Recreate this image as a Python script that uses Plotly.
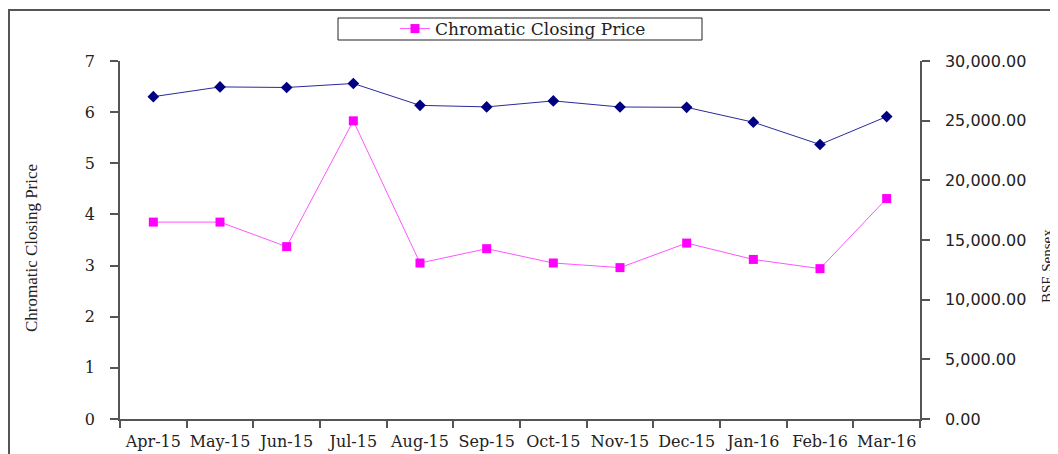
import plotly.graph_objects as go

months = ["Apr-15", "May-15", "Jun-15", "Jul-15", "Aug-15", "Sep-15",
          "Oct-15", "Nov-15", "Dec-15", "Jan-16", "Feb-16", "Mar-16"]
chromatic_price = [3.85, 3.85, 3.37, 5.83, 3.05, 3.33, 3.05, 2.96, 3.44, 3.12, 2.94, 4.31]
bse_sensex = [27011, 27828, 27781, 28115, 26283, 26155, 26657, 26146, 26118, 24871, 23002, 25342]
left_ticks = [0, 1, 2, 3, 4, 5, 6, 7]
right_ticks = [0, 5000, 10000, 15000, 20000, 25000, 30000]

pos = list(range(len(months)))
bounds = [i - 0.5 for i in range(len(months) + 1)]

# page body has an 8px margin: figure coordinates = window coordinates - 8
OFF = 8
W, H = 1058 - OFF, 454 - OFF
L, T = 120 - OFF, 61 - OFF
R = W - (920 - OFF)
B = H - (419 - OFF)
pw, ph = W - L - R, H - T - B


def px_x(p):  # window px -> paper
    return (p - OFF - L) / pw


def px_y(p):
    return (H - B - (p - OFF)) / ph


axis_col = "#555555"
serif_font = dict(family="DejaVu Serif", size=16, color="#222222")
sans_font = dict(family="DejaVu Sans", size=16, color="#222222")

fig = go.Figure()
fig.add_trace(go.Scatter(
    x=pos, y=bse_sensex, yaxis="y2", mode="lines+markers", name="BSE Sensex",
    line=dict(color="#2a2a9a", width=1),
    marker=dict(symbol="diamond", size=9, color="#000080"),
    showlegend=False))
fig.add_trace(go.Scatter(
    x=pos, y=chromatic_price, mode="lines+markers", name="Chromatic Closing Price",
    line=dict(color="#ff55ff", width=1),
    marker=dict(symbol="square", size=9, color="#ff00ff")))

rng_x = [-0.5, len(months) - 0.5]
common = dict(showgrid=False, zeroline=False, automargin=False)
fig.update_layout(
    width=W, height=H,
    margin=dict(l=L, r=R, t=T, b=B, autoexpand=False),
    paper_bgcolor="white", plot_bgcolor="white",
    font=serif_font,
    xaxis=dict(range=rng_x, tickmode="array", tickvals=pos, ticktext=months,
               ticks="", showline=True, linecolor=axis_col, linewidth=1.5,
               minor=dict(tickmode="array", tickvals=bounds, ticks="outside",
                          ticklen=7, tickcolor=axis_col, tickwidth=1.5, showgrid=False),
               tickfont=serif_font, ticklabelstandoff=7, **common),
    xaxis2=dict(range=rng_x, overlaying="x", anchor="y", side="bottom",
                tickmode="array", tickvals=bounds, ticks="inside", ticklen=7,
                tickcolor=axis_col, tickwidth=1.5, showticklabels=False,
                showline=False, **common),
    yaxis=dict(range=[0, 7], tickmode="array", tickvals=left_ticks,
               ticks="outside", ticklen=8, tickcolor=axis_col, tickwidth=1.5,
               showline=True, linecolor=axis_col, linewidth=1.5,
               tickfont=serif_font, ticklabelstandoff=12, **common),
    yaxis3=dict(range=[0, 7], overlaying="y", anchor="x", side="left",
                tickmode="array", tickvals=left_ticks, ticks="inside", ticklen=7,
                tickcolor=axis_col, tickwidth=1.5, showticklabels=False,
                showline=False, **common),
    yaxis2=dict(range=[0, 30000], overlaying="y", side="right", anchor="x",
                tickmode="array", tickvals=right_ticks, tickformat=",.2f",
                ticks="outside", ticklen=8, tickcolor=axis_col, tickwidth=1.5,
                showline=True, linecolor=axis_col, linewidth=1.5,
                tickfont=sans_font, ticklabelstandoff=12, **common),
    yaxis4=dict(range=[0, 30000], overlaying="y", anchor="x", side="right",
                tickmode="array", tickvals=right_ticks, ticks="inside", ticklen=7,
                tickcolor=axis_col, tickwidth=1.5, showticklabels=False,
                showline=False, **common),
    legend=dict(x=px_x(395), y=px_y(29), xanchor="left", yanchor="middle",
                orientation="v", borderwidth=0, bgcolor="rgba(0,0,0,0)",
                font=dict(family="DejaVu Serif", size=17, color="#222222")),
    shapes=[
        dict(type="rect", xref="paper", yref="paper",
             x0=px_x(9), x1=px_x(1090), y0=px_y(490), y1=px_y(10),
             line=dict(color="#555555", width=2), layer="below"),
        dict(type="rect", xref="paper", yref="paper",
             x0=px_x(338), x1=px_x(702), y0=px_y(40), y1=px_y(18),
             line=dict(color="#222222", width=1), fillcolor="white", layer="below"),
    ],
    annotations=[
        dict(text="Chromatic Closing Price", xref="paper", yref="paper",
             x=px_x(31), y=px_y(248), textangle=-90,
             xanchor="center", yanchor="middle", showarrow=False,
             font=dict(family="Liberation Serif", size=17, color="#222222")),
        dict(text="BSE Sensex", xref="paper", yref="paper",
             x=px_x(1047), y=px_y(266), textangle=-90,
             xanchor="center", yanchor="middle", showarrow=False,
             font=dict(family="Liberation Serif", size=15, color="#222222")),
    ],
)

fig.write_html("out.html")
